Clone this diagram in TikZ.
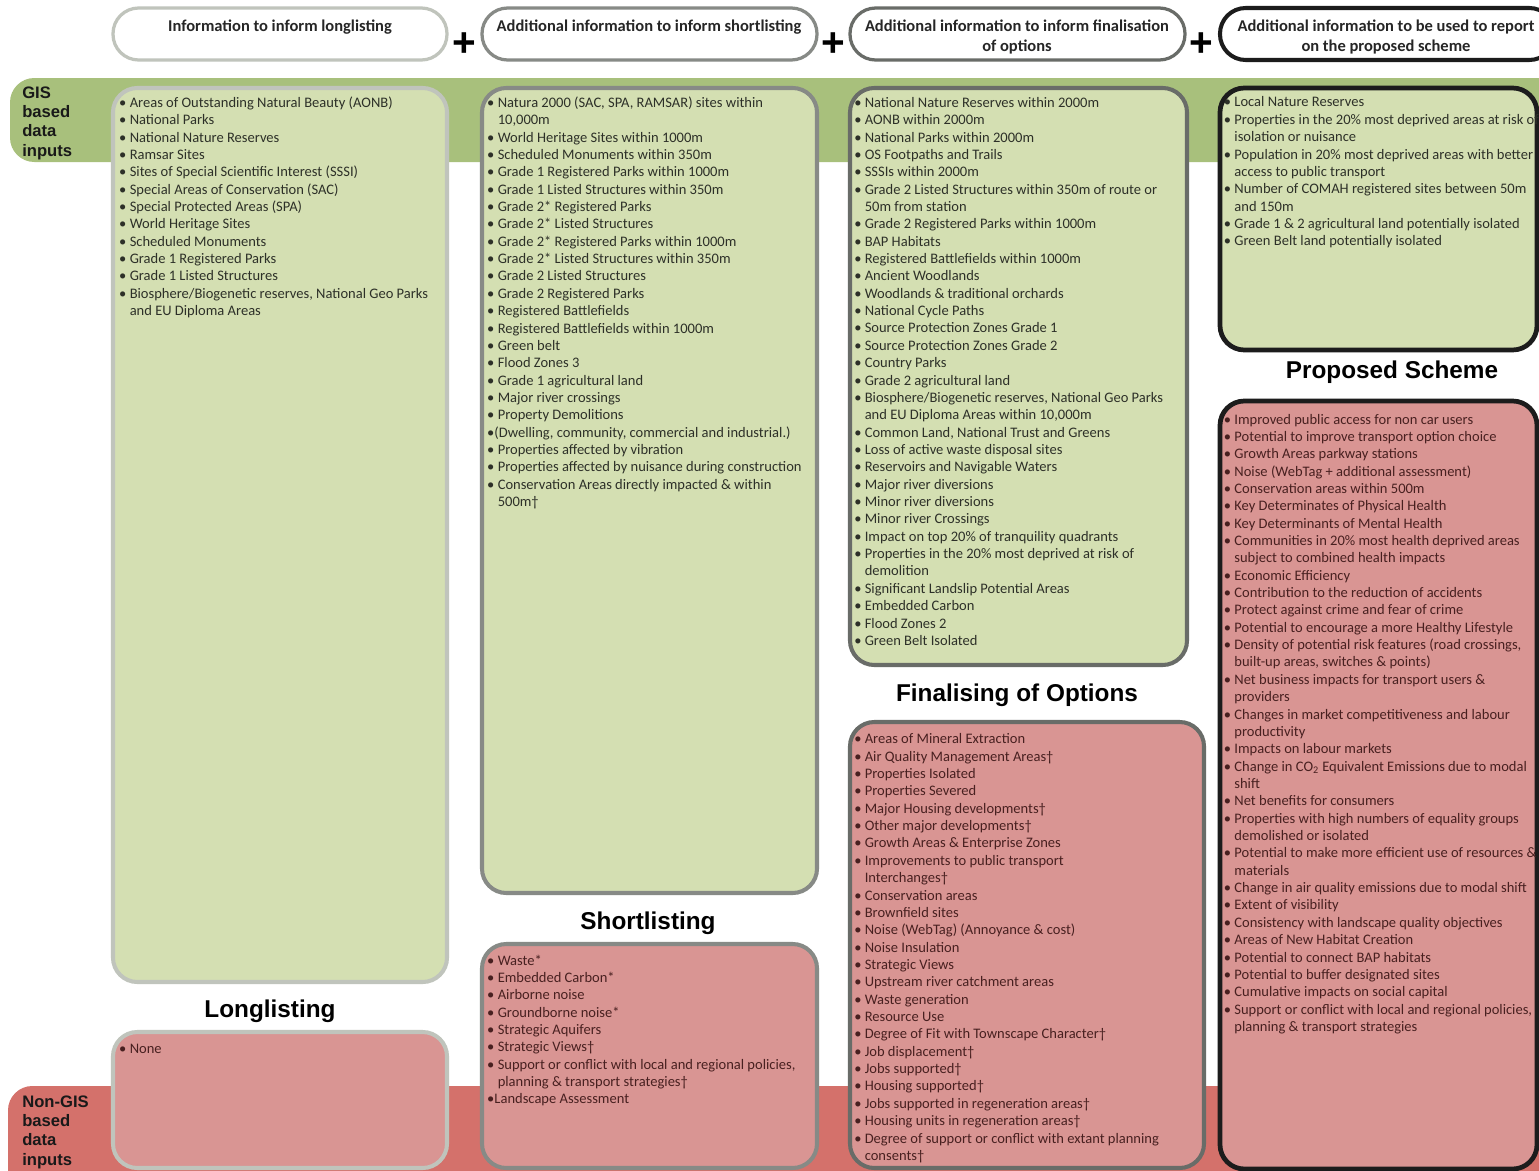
\documentclass[tikz,border=0pt]{standalone}
\usepackage{fontspec}
\setmainfont{Carlito}
\newfontfamily\headsans{Liberation Sans}
\usetikzlibrary{positioning,fit}

\definecolor{bandgreen}{RGB}{168,192,124}
\definecolor{bandred}{RGB}{212,113,107}
\definecolor{gisfill}{RGB}{212,223,178}
\definecolor{nonfill}{RGB}{217,149,147}
\definecolor{edgeA}{RGB}{192,196,188}
\definecolor{edgeB}{RGB}{135,138,134}
\definecolor{edgeC}{RGB}{105,108,104}
\definecolor{edgeD}{RGB}{28,28,28}
\definecolor{gistext}{RGB}{45,48,40}
\definecolor{nontext}{RGB}{72,32,32}

\newcommand{\bl}{\textbullet\ }
\newcommand{\hang}{\hphantom{\textbullet\ }}

\tikzset{
  pill/.style={draw, line width=2.4pt, fill=white, rounded corners=19pt, inner sep=0pt},
  pilltext/.style={align=center, inner sep=0pt, text=black!85,
    font=\bfseries\fontsize{12.2pt}{14.8pt}\selectfont},
  plus/.style={inner sep=0pt, font=\headsans\bfseries\fontsize{30pt}{30pt}\selectfont},
  listbox/.style={line width=3pt, rounded corners=18pt, inner sep=0pt},
  gisbox/.style={listbox, fill=gisfill},
  nonbox/.style={listbox, fill=nonfill},
  itemlist/.style={align=left, inner sep=0pt, anchor=north west,
    font=\fontsize{10.75pt}{12.84pt}\selectfont},
  gislist/.style={itemlist, text=gistext},
  nonlist/.style={itemlist, text=nontext},
  stage/.style={inner sep=0pt, font=\headsans\bfseries\fontsize{18pt}{20pt}\selectfont},
  bandlabel/.style={align=left, inner sep=0pt, anchor=west, text=black!90,
    font=\headsans\bfseries\fontsize{12.3pt}{14.3pt}\selectfont}
}

\begin{document}
\begin{tikzpicture}[x=0.026cm, y=-0.026cm]
  \useasboundingbox (0,0) rectangle (1539,1171);
  \clip (0,0) rectangle (1539,1171);
  \fill[white] (0,0) rectangle (1539,1171);

  % bands
  \fill[bandgreen, rounded corners=18pt] (10,78) rectangle (1600,162);
  \fill[bandred, rounded corners=18pt] (8,1086) rectangle (1600,1260);
  \node[bandlabel] (gislab) at (22,123) {GIS\\based\\data\\inputs};
  \node[bandlabel] (nonlab) at (22,1132) {Non-GIS\\based\\data\\inputs};

  % header pills
  \node[pill, draw=edgeA, fit={(113,8) (447,60)}] (hd1) {};
  \node[pill, draw=edgeB, fit={(482,8) (817,60)}] (hd2) {};
  \node[pill, draw=edgeC, fit={(850,8) (1185,60)}] (hd3) {};
  \node[pill, draw=edgeD, line width=3pt, fit={(1220,8) (1555,60)}] (hd4) {};
  \node[pilltext] (hd1t) at (280,27) {Information to inform longlisting};
  \node[pilltext] (hd2t) at (649,27) {Additional information to inform shortlisting};
  \node[pilltext] (hd3t) at (1017,37) {Additional information to inform finalisation\\of options};
  \node[pilltext] (hd4t) at (1386,37) {Additional information to be used to report\\on the proposed scheme};
  \node[plus] (p1) at (464,45) {+};
  \node[plus] (p2) at (833,45) {+};
  \node[plus] (p3) at (1201,45) {+};

  % longlisting
  \node[gisbox, draw=edgeA, fit={(113,88) (447,982)}] (longG) {};
  \node[gislist] (longGt) at ([shift={(8,10.5)}]longG.north west) {%
    \bl Areas of Outstanding Natural Beauty (AONB)\\
    \bl National Parks\\
    \bl National Nature Reserves\\
    \bl Ramsar Sites\\
    \bl Sites of Special Scientific Interest (SSSI)\\
    \bl Special Areas of Conservation (SAC)\\
    \bl Special Protected Areas (SPA)\\
    \bl World Heritage Sites\\
    \bl Scheduled Monuments\\
    \bl Grade 1 Registered Parks\\
    \bl Grade 1 Listed Structures\\
    \bl Biosphere/Biogenetic reserves, National Geo Parks\\
    \hang and EU Diploma Areas};
  \node[stage] (longS) at (270,1011) {Longlisting};
  \node[nonbox, draw=edgeA, fit={(113,1032) (447,1168)}] (longN) {};
  \node[nonlist] (longNt) at ([shift={(8,13.5)}]longN.north west) {\bl None};

  % shortlisting
  \node[gisbox, draw=edgeB, fit={(482,88) (817,893)}] (shortG) {};
  \node[gislist] (shortGt) at ([shift={(7,10.5)}]shortG.north west) {%
    \bl Natura 2000 (SAC, SPA, RAMSAR) sites within\\
    \hang 10,000m\\
    \bl World Heritage Sites within 1000m\\
    \bl Scheduled Monuments within 350m\\
    \bl Grade 1 Registered Parks within 1000m\\
    \bl Grade 1 Listed Structures within 350m\\
    \bl Grade 2* Registered Parks\\
    \bl Grade 2* Listed Structures\\
    \bl Grade 2* Registered Parks within 1000m\\
    \bl Grade 2* Listed Structures within 350m\\
    \bl Grade 2 Listed Structures\\
    \bl Grade 2 Registered Parks\\
    \bl Registered Battlefields\\
    \bl Registered Battlefields within 1000m\\
    \bl Green belt\\
    \bl Flood Zones 3\\
    \bl Grade 1 agricultural land\\
    \bl Major river crossings\\
    \bl Property Demolitions\\
    \textbullet(Dwelling, community, commercial and industrial.)\\
    \bl Properties affected by vibration\\
    \bl Properties affected by nuisance during construction\\
    \bl Conservation Areas directly impacted \& within\\
    \hang 500m\textdagger};
  \node[stage] (shortS) at (648,923) {Shortlisting};
  \node[nonbox, draw=edgeB, fit={(482,944) (817,1168)}] (shortN) {};
  \node[nonlist] (shortNt) at ([shift={(7,12.5)}]shortN.north west) {%
    \bl Waste*\\
    \bl Embedded Carbon*\\
    \bl Airborne noise\\
    \bl Groundborne noise*\\
    \bl Strategic Aquifers\\
    \bl Strategic Views\textdagger\\
    \bl Support or conflict with local and regional policies,\\
    \hang planning \& transport strategies\textdagger\\
    \textbullet Landscape Assessment};

  % finalising of options
  \node[gisbox, draw=edgeC, fit={(850,88) (1187,665)}] (finalG) {};
  \node[gislist] (finalGt) at ([shift={(6,11)}]finalG.north west) {%
    \bl National Nature Reserves within 2000m\\
    \bl AONB within 2000m\\
    \bl National Parks within 2000m\\
    \bl OS Footpaths and Trails\\
    \bl SSSIs within 2000m\\
    \bl Grade 2 Listed Structures within 350m of route or\\
    \hang 50m from station\\
    \bl Grade 2 Registered Parks within 1000m\\
    \bl BAP Habitats\\
    \bl Registered Battlefields within 1000m\\
    \bl Ancient Woodlands\\
    \bl Woodlands \& traditional orchards\\
    \bl National Cycle Paths\\
    \bl Source Protection Zones Grade 1\\
    \bl Source Protection Zones Grade 2\\
    \bl Country Parks\\
    \bl Grade 2 agricultural land\\
    \bl Biosphere/Biogenetic reserves, National Geo Parks\\
    \hang and EU Diploma Areas within 10,000m\\
    \bl Common Land, National Trust and Greens\\
    \bl Loss of active waste disposal sites\\
    \bl Reservoirs and Navigable Waters\\
    \bl Major river diversions\\
    \bl Minor river diversions\\
    \bl Minor river Crossings\\
    \bl Impact on top 20\% of tranquility quadrants\\
    \bl Properties in the 20\% most deprived at risk of\\
    \hang demolition\\
    \bl Significant Landslip Potential Areas\\
    \bl Embedded Carbon\\
    \bl Flood Zones 2\\
    \bl Green Belt Isolated};
  \node[stage] (finalS) at (1017,695) {Finalising of Options};
  \node[nonbox, draw=edgeC, fit={(850,722) (1204,1168)}] (finalN) {};
  \node[nonlist] (finalNt) at ([shift={(6,13.5)}]finalN.north west) {%
    \bl Areas of Mineral Extraction\\
    \bl Air Quality Management Areas\textdagger\\
    \bl Properties Isolated\\
    \bl Properties Severed\\
    \bl Major Housing developments\textdagger\\
    \bl Other major developments\textdagger\\
    \bl Growth Areas \& Enterprise Zones\\
    \bl Improvements to public transport\\
    \hang Interchanges\textdagger\\
    \bl Conservation areas\\
    \bl Brownfield sites\\
    \bl Noise (WebTag) (Annoyance \& cost)\\
    \bl Noise Insulation\\
    \bl Strategic Views\\
    \bl Upstream river catchment areas\\
    \bl Waste generation\\
    \bl Resource Use\\
    \bl Degree of Fit with Townscape Character\textdagger\\
    \bl Job displacement\textdagger\\
    \bl Jobs supported\textdagger\\
    \bl Housing supported\textdagger\\
    \bl Jobs supported in regeneration areas\textdagger\\
    \bl Housing units in regeneration areas\textdagger\\
    \bl Degree of support or conflict with extant planning\\
    \hang consents\textdagger};

  % proposed scheme
  \node[gisbox, draw=edgeD, line width=3.5pt, fit={(1220,88) (1537,350)}] (propG) {};
  \node[gislist] (propGt) at ([shift={(6,11)}]propG.north west) {%
    \bl Local Nature Reserves\\
    \bl Properties in the 20\% most deprived areas at risk of\\
    \hang isolation or nuisance\\
    \bl Population in 20\% most deprived areas with better\\
    \hang access to public transport\\
    \bl Number of COMAH registered sites between 50m\\
    \hang and 150m\\
    \bl Grade 1 \& 2 agricultural land potentially isolated\\
    \bl Green Belt land potentially isolated};
  \node[stage] (propS) at (1392,372) {Proposed Scheme};
  \node[nonbox, draw=edgeD, line width=3.5pt, fit={(1220,401) (1537,1169)}] (propN) {};
  \node[nonlist] (propNt) at ([shift={(6,15)}]propN.north west) {%
    \bl Improved public access for non car users\\
    \bl Potential to improve transport option choice\\
    \bl Growth Areas parkway stations\\
    \bl Noise (WebTag + additional assessment)\\
    \bl Conservation areas within 500m\\
    \bl Key Determinates of Physical Health\\
    \bl Key Determinants of Mental Health\\
    \bl Communities in 20\% most health deprived areas\\
    \hang subject to combined health impacts\\
    \bl Economic Efficiency\\
    \bl Contribution to the reduction of accidents\\
    \bl Protect against crime and fear of crime\\
    \bl Potential to encourage a more Healthy Lifestyle\\
    \bl Density of potential risk features (road crossings,\\
    \hang built-up areas, switches \& points)\\
    \bl Net business impacts for transport users \&\\
    \hang providers\\
    \bl Changes in market competitiveness and labour\\
    \hang productivity\\
    \bl Impacts on labour markets\\
    \bl Change in CO\textsubscript{2} Equivalent Emissions due to modal\\
    \hang shift\\
    \bl Net benefits for consumers\\
    \bl Properties with high numbers of equality groups\\
    \hang demolished or isolated\\
    \bl Potential to make more efficient use of resources \&\\
    \hang materials\\
    \bl Change in air quality emissions due to modal shift\\
    \bl Extent of visibility\\
    \bl Consistency with landscape quality objectives\\
    \bl Areas of New Habitat Creation\\
    \bl Potential to connect BAP habitats\\
    \bl Potential to buffer designated sites\\
    \bl Cumulative impacts on social capital\\
    \bl Support or conflict with local and regional policies,\\
    \hang planning \& transport strategies};
\end{tikzpicture}
\end{document}
